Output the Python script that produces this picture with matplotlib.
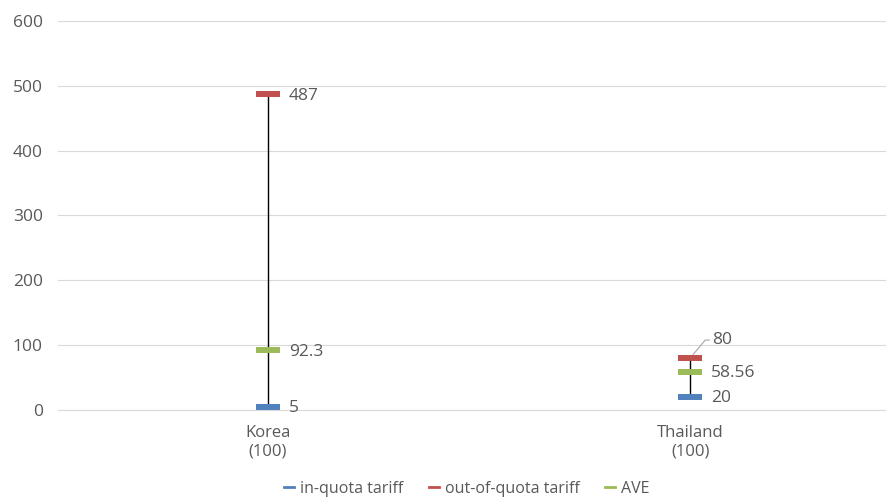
import numpy as np
import matplotlib.pyplot as plt

plt.rcParams['font.family'] = ['Open Sans', 'DejaVu Sans']

# Tariff data per country (TRQ volume in brackets)
countries = ['Korea\n(100)', 'Thailand\n(100)']
in_quota = [5, 20]
out_quota = [487, 80]
ave = [92.3, 58.56]
labels_in = ['5', '20']
labels_out = ['487', '80']
labels_ave = ['92.3', '58.56']

blue = '#4F81BD'
red = '#C0504D'
green = '#9BBB59'
grey_txt = '#595959'

fig = plt.figure(figsize=(8.86, 4.97), dpi=100)
ax = fig.add_axes([0.0655, 0.175, 0.9345, 0.783])

x = np.arange(len(countries))

# high-low lines
lows = np.minimum.reduce([in_quota, out_quota, ave])
highs = np.maximum.reduce([in_quota, out_quota, ave])
ax.vlines(x, lows, highs, color='black', linewidth=1, zorder=2)

ax.plot(x, in_quota, linestyle='none', marker='_', markersize=17, markeredgewidth=4.3,
        color=blue, label='in-quota tariff', zorder=3)
ax.plot(x, out_quota, linestyle='none', marker='_', markersize=17, markeredgewidth=4.3,
        color=red, label='out-of-quota tariff', zorder=3)
ax.plot(x, ave, linestyle='none', marker='_', markersize=17, markeredgewidth=4.3,
        color=green, label='AVE', zorder=3)

# data labels
for vals, labs in [(in_quota, labels_in), (out_quota, labels_out), (ave, labels_ave)]:
    for i, (v, t) in enumerate(zip(vals, labs)):
        if i == 1 and t == '80':
            continue
        ax.annotate(t, (x[i], v), xytext=(15, -1), textcoords='offset points',
                    va='center', ha='left', fontsize=12.5, color=grey_txt)

# moved label with leader line
ax.annotate(labels_out[1], (x[1], out_quota[1]), xytext=(16, 13), textcoords='offset points',
            va='center', ha='left', fontsize=12.5, color=grey_txt,
            arrowprops=dict(arrowstyle='-', color='#A6A6A6', lw=0.8,
                            shrinkA=0, shrinkB=3,
                            connectionstyle='angle,angleA=0,angleB=50,rad=0'))

ax.set_ylim(0, 600)
ax.set_yticks(range(0, 601, 100))
ax.set_xlim(-0.497, 1.464)
ax.set_xticks(x)
ax.set_xticklabels(countries, linespacing=1.2)
ax.tick_params(axis='y', length=0, labelsize=12.5, labelcolor=grey_txt, pad=11)
ax.tick_params(axis='x', length=0, labelsize=12, labelcolor=grey_txt, pad=11)
ax.grid(axis='y', color='#D9D9D9', linewidth=0.8)
ax.set_axisbelow(True)
for s in ['left', 'right', 'top']:
    ax.spines[s].set_visible(False)
ax.spines['bottom'].set_color('#D9D9D9')

handles = [plt.Line2D([], [], color=c, lw=2) for c in [blue, red, green]]
fig.legend(handles, ['in-quota tariff', 'out-of-quota tariff', 'AVE'],
           loc='center', bbox_to_anchor=(0.527, 0.017), ncol=3, frameon=False,
           fontsize=11.5, handlelength=0.6, handletextpad=0.4, columnspacing=1.6,
           labelcolor=grey_txt)

fig.savefig('out.png', dpi=100)
